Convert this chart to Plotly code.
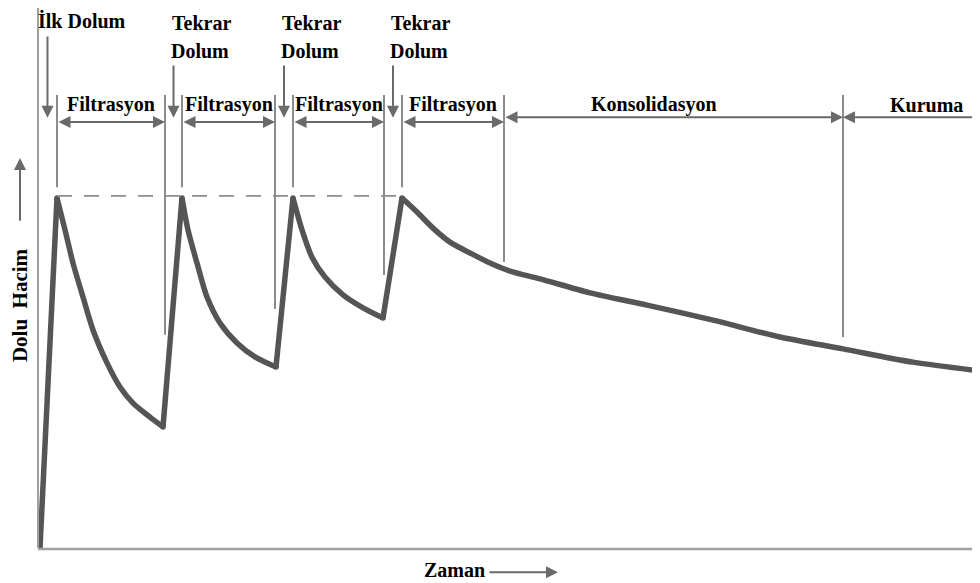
import plotly.graph_objects as go

# ---------------- data (time in arbitrary units, volume in % of full) ----------------
# each phase of the curve: (times, volumes)
rise_t = [[0.2, 1.9], [12.5, 14.4], [23.8, 25.5], [34.5, 36.4]]
rise_v = [[0.0, 100.0], [34.6, 100.0], [51.7, 100.0], [65.7, 100.0]]

decay_t = [
    [1.9, 2.7, 3.5, 4.5, 5.5, 6.9, 8.2, 9.5, 11.2, 12.5],
    [14.4, 15.0, 15.9, 16.9, 18.2, 19.9, 21.7, 23.8],
    [25.5, 26.4, 27.4, 28.7, 30.5, 32.5, 34.5],
    [36.4, 37.9, 39.5, 41.2, 43.2, 45.2, 47.2, 50.2, 55.2, 60.9, 67.5, 74.2, 80.5, 87.5, 94.2],
]
decay_v = [
    [100.0, 90.9, 81.4, 71.7, 62.3, 52.9, 46.0, 41.4, 37.4, 34.6],
    [100.0, 90.9, 81.4, 71.7, 64.3, 58.6, 54.6, 51.7],
    [100.0, 90.9, 83.1, 77.4, 72.3, 68.6, 65.7],
    [100.0, 96.0, 91.4, 87.4, 84.3, 81.4, 79.1, 76.9, 72.9, 69.4, 65.1, 60.3, 56.9, 53.1, 50.6],
]

fill_times = [1.9, 14.4, 25.5, 36.4]          # moments of (re)filling = peaks
filtration_end = [12.7, 23.7, 34.6, 46.6]     # end of each filtration phase
consolidation_end = 80.5
drying_end = 94.2
peak_volume = 100.0
valley_guide_bottom = [60.9, 68.3, 78.0, 81.7]  # lower end of guides at phase ends
drying_guide_bottom = 60.3

fill_labels = [["İlk Dolum"], ["Tekrar", "Dolum"], ["Tekrar", "Dolum"], ["Tekrar", "Dolum"]]
filtration_label = "Filtrasyon"
consolidation_label = "Konsolidasyon"
drying_label = "Kuruma"
x_title = "Zaman"
y_title = "Dolu  Hacim"

# ---------------- styling ----------------
CURVE = "#555555"
GUIDE = "#8c8c8c"
ARROW = "#6a6a6a"
AXIS = "#a0a0a0"
FONT = dict(family="Liberation Serif, Times New Roman, serif", size=20, color="black", weight="bold")

GUIDE_TOP = 129.4
PEAK_GUIDE_BOTTOM = 103.1
FILT_ARROW_Y = 121.7
PHASE_ARROW_Y = 123.1
DOWN_TOP_FIRST = 146.6
DOWN_TOP = 138.3
DOWN_TIP = 122.9
LABEL_Y = 126.6

fig = go.Figure()

# main curve: straight filling lines, smooth decays
for tt, vv in zip(rise_t, rise_v):
    fig.add_trace(go.Scatter(x=tt, y=vv, mode="lines", line=dict(color=CURVE, width=5.5),
                             hoverinfo="skip"))
for tt, vv in zip(decay_t, decay_v):
    fig.add_trace(go.Scatter(x=tt, y=vv, mode="lines",
                             line=dict(color=CURVE, width=5.5, shape="spline", smoothing=0.8),
                             hoverinfo="skip"))
# joints (peaks and valleys) so the corners stay closed
joint_t = [r[1] for r in rise_t] + [r[0] for r in rise_t[1:]]
joint_v = [r[1] for r in rise_v] + [r[0] for r in rise_v[1:]]
fig.add_trace(go.Scatter(x=joint_t, y=joint_v, mode="markers",
                         marker=dict(color=CURVE, size=5.5, line=dict(width=0)), hoverinfo="skip"))

# dashed full-volume reference
fig.add_trace(go.Scatter(x=[fill_times[0], fill_times[-1]], y=[peak_volume + 0.6, peak_volume + 0.6],
                         mode="lines", line=dict(color=GUIDE, width=1.6, dash="15px,12px"),
                         hoverinfo="skip"))

shapes = []
# axes
shapes.append(dict(type="line", xref="x", yref="y", x0=0, x1=0, y0=0, y1=154.3,
                   line=dict(color=AXIS, width=2)))
shapes.append(dict(type="line", xref="x", yref="y", x0=0, x1=drying_end, y0=-0.3, y1=-0.3,
                   line=dict(color=AXIS, width=2.5)))
# guides at fill moments
for t in fill_times:
    shapes.append(dict(type="line", xref="x", yref="y", x0=t, x1=t, y0=PEAK_GUIDE_BOTTOM, y1=GUIDE_TOP,
                       line=dict(color=GUIDE, width=2)))
# guides at filtration ends
for t, b in zip(filtration_end, valley_guide_bottom):
    shapes.append(dict(type="line", xref="x", yref="y", x0=t, x1=t, y0=b, y1=GUIDE_TOP,
                       line=dict(color=GUIDE, width=2)))
shapes.append(dict(type="line", xref="x", yref="y", x0=consolidation_end, x1=consolidation_end,
                   y0=drying_guide_bottom, y1=GUIDE_TOP, line=dict(color=GUIDE, width=2)))

ann = []
arrow_common = dict(xref="x", yref="y", axref="x", ayref="y", text="", showarrow=True,
                    arrowcolor=ARROW, arrowwidth=2, arrowhead=2, arrowsize=1.2, standoff=0)

prev_end = [0.0] + filtration_end[:-1]
for i, (t, pe) in enumerate(zip(fill_times, prev_end)):
    xa = (t + pe) / 2
    top = DOWN_TOP_FIRST if i == 0 else DOWN_TOP
    ann.append(dict(x=xa, y=DOWN_TIP, ax=xa, ay=top, **arrow_common))
    lines = fill_labels[i]
    if len(lines) == 1:
        ann.append(dict(x=0, y=150.6, xref="x", yref="y", text=lines[0], showarrow=False,
                        xanchor="left", yanchor="middle", font=FONT, xshift=-2))
    else:
        ann.append(dict(x=xa, y=150.0, xref="x", yref="y", text=lines[0], showarrow=False,
                        xanchor="left", yanchor="middle", font=FONT, xshift=-4))
        ann.append(dict(x=xa, y=142.0, xref="x", yref="y", text=lines[1], showarrow=False,
                        xanchor="left", yanchor="middle", font=FONT, xshift=-5))

# filtration double arrows + labels
for t0, t1 in zip(fill_times, filtration_end):
    ann.append(dict(x=t1, y=FILT_ARROW_Y, ax=t0, ay=FILT_ARROW_Y, arrowside="end+start",
                    startarrowhead=2, startarrowsize=1.2, **arrow_common))
    ann.append(dict(x=(t0 + t1) / 2, y=LABEL_Y, xref="x", yref="y", text=filtration_label,
                    showarrow=False, xanchor="center", yanchor="middle", font=FONT))

# consolidation
ann.append(dict(x=consolidation_end, y=PHASE_ARROW_Y, ax=filtration_end[-1], ay=PHASE_ARROW_Y,
                arrowside="end+start", startarrowhead=2, startarrowsize=1.2, **arrow_common))
ann.append(dict(x=(filtration_end[-1] + consolidation_end) / 2, y=LABEL_Y, xref="x", yref="y",
                text=consolidation_label, showarrow=False, xanchor="center", yanchor="middle",
                font=FONT, xshift=-20))
# drying
ann.append(dict(x=consolidation_end, y=PHASE_ARROW_Y, ax=drying_end + 2, ay=PHASE_ARROW_Y,
                **arrow_common))
ann.append(dict(x=(consolidation_end + drying_end) / 2, y=LABEL_Y, xref="x", yref="y",
                text=drying_label, showarrow=False, xanchor="center", yanchor="middle",
                font=FONT, xshift=15))

# axis titles with arrows
ann.append(dict(x=41.6, y=-6.3, xref="x", yref="y", text=x_title, showarrow=False,
                xanchor="center", yanchor="middle", font=FONT))
ann.append(dict(x=52.0, y=-6.9, ax=45.0, ay=-6.9, **arrow_common))
ann.append(dict(x=-1.8, y=69.4, xref="x", yref="y", text=y_title, showarrow=False,
                textangle=-90, xanchor="center", yanchor="middle", height=22, borderpad=0,
                font=dict(FONT, size=21)))
ann.append(dict(x=-1.8, y=111.4, ax=-1.8, ay=93.1, **arrow_common))

# the page places the plot 8px in from the top-left corner, so the figure is 8px
# smaller and the axis ranges start where the visible window starts
fig.update_layout(
    width=972, height=575,
    margin=dict(l=0, r=0, t=0, b=0),
    paper_bgcolor="white", plot_bgcolor="white",
    showlegend=False,
    xaxis=dict(range=[-3.0, 94.2], visible=False, fixedrange=True),
    yaxis=dict(range=[-10, 154.286], visible=False, fixedrange=True),
    shapes=shapes, annotations=ann,
)

fig.write_html("out.html")
